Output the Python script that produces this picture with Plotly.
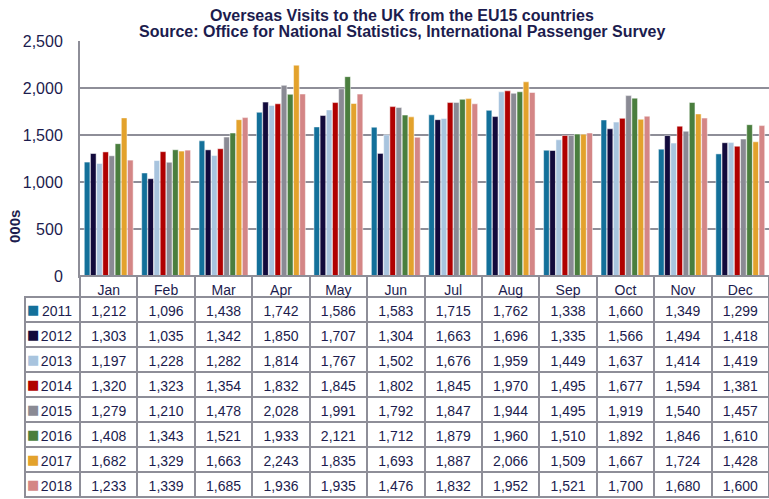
import plotly.graph_objects as go

months = ["Jan", "Feb", "Mar", "Apr", "May", "Jun", "Jul", "Aug", "Sep", "Oct", "Nov", "Dec"]
years = ["2011", "2012", "2013", "2014", "2015", "2016", "2017", "2018"]
v2011 = [1212, 1096, 1438, 1742, 1586, 1583, 1715, 1762, 1338, 1660, 1349, 1299]
v2012 = [1303, 1035, 1342, 1850, 1707, 1304, 1663, 1696, 1335, 1566, 1494, 1418]
v2013 = [1197, 1228, 1282, 1814, 1767, 1502, 1676, 1959, 1449, 1637, 1414, 1419]
v2014 = [1320, 1323, 1354, 1832, 1845, 1802, 1845, 1970, 1495, 1677, 1594, 1381]
v2015 = [1279, 1210, 1478, 2028, 1991, 1792, 1847, 1944, 1495, 1919, 1540, 1457]
v2016 = [1408, 1343, 1521, 1933, 2121, 1712, 1879, 1960, 1510, 1892, 1846, 1610]
v2017 = [1682, 1329, 1663, 2243, 1835, 1693, 1887, 2066, 1509, 1667, 1724, 1428]
v2018 = [1233, 1339, 1685, 1936, 1935, 1476, 1832, 1952, 1521, 1700, 1680, 1600]
series = [v2011, v2012, v2013, v2014, v2015, v2016, v2017, v2018]
colors = ["#13709A", "#120A3C", "#A8C4DE", "#B00000", "#8A8A94", "#4A7E3E", "#E3A22C", "#D48686"]

W, H = 769, 499
PL, PT, PB = 80, 41, 276      # plot area left, top, bottom (px)
TX0 = 25                      # table left edge
HDR_H, ROW_H = 21, 25
navy = "#1C1C4E"
grid = "#8E8E98"
font = "Liberation Sans, Arial, sans-serif"

fig = go.Figure()
for y, vals, c in zip(years, series, colors):
    fig.add_trace(go.Bar(x=months, y=vals, name=y, marker=dict(color=c, line=dict(color="white", width=0.5)),
                         showlegend=False, hoverinfo="skip"))

month_cols = [[f"{s[i]:,}" for s in series] for i in range(12)]
col_w = [PL - TX0] + [(W - PL) / 12] * 12
fig.add_trace(go.Table(
    domain=dict(x=[TX0 / W, 1], y=[0, 1 - PB / H]),
    columnwidth=col_w,
    header=dict(values=[""] + months, height=HDR_H,
                fill=dict(color=["rgba(255,255,255,0)"] + ["white"] * 12),
                line=dict(color=["rgba(255,255,255,0)"] + [grid] * 12, width=2),
                font=dict(family=font, size=14, color=navy), align="center"),
    cells=dict(values=[years] + month_cols, height=ROW_H,
               fill=dict(color="white"),
               line=dict(color=grid, width=2),
               font=dict(family=font, size=14, color=navy),
               align=["right"] + ["center"] * 12),
))

annotations = [
    dict(text="<b>Overseas Visits to the UK from the EU15 countries</b>", x=402 / W, y=1 - 15 / H,
         xref="paper", yref="paper", yanchor="middle", xanchor="center", showarrow=False,
         font=dict(size=16, color=navy, family=font)),
    dict(text="<b>Source: Office for National Statistics, International Passenger Survey</b>", x=402 / W,
         y=1 - 32 / H, xref="paper", yref="paper", yanchor="middle", xanchor="center", showarrow=False,
         font=dict(size=16, color=navy, family=font)),
    dict(text="<b>000s</b>", x=14 / W, y=1 - 227 / H, xref="paper", yref="paper", textangle=-90,
         xanchor="center", yanchor="middle", showarrow=False, font=dict(size=15, color=navy, family=font)),
]
# legend keys in the table's first column
for i, c in enumerate(colors):
    annotations.append(dict(text="■", x=33 / W, y=1 - (PB + HDR_H + ROW_H * i + ROW_H / 2) / H,
                            xref="paper", yref="paper", xanchor="center", yanchor="middle", showarrow=False,
                            font=dict(size=13, color=c, family="DejaVu Sans")))

fig.update_layout(
    width=W, height=H,
    margin=dict(l=0, r=0, t=0, b=0, autoexpand=False),
    paper_bgcolor="white", plot_bgcolor="white",
    barmode="group", bargap=0.14, bargroupgap=0.08,
    font=dict(family=font, color=navy),
    xaxis=dict(domain=[PL / W, 1], showticklabels=False, showgrid=False, showline=True, linecolor=grid,
               linewidth=2, ticks=""),
    yaxis=dict(domain=[1 - PB / H, 1 - PT / H], range=[0, 2500], dtick=500, tickformat=",",
               showgrid=True, gridcolor=grid, gridwidth=2,
               showline=True, linecolor=grid, linewidth=2, ticks="outside", ticklen=12, tickcolor="white",
               tickfont=dict(size=16, color=navy), zeroline=False),
    annotations=annotations,
)

fig.write_html("out.html", config={"displayModeBar": False},
               post_script="document.body.style.margin='0';document.body.style.overflow='hidden';")
